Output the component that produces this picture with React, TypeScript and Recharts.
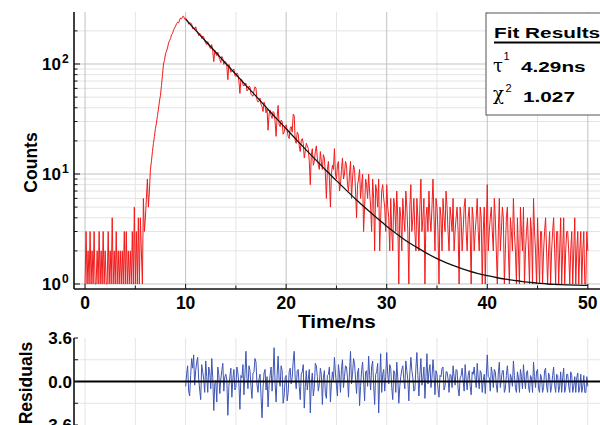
import React from 'react';
import { LineChart, Line, XAxis, YAxis, CartesianGrid, ReferenceLine } from 'recharts';

// ---------- data ----------
const CHANNEL_NS = 0.1; // time step between channels

// counts, 0.0 .. 5.5 ns (background before the pulse)
const countsBaseline = [
  1, 3, 1, 2, 1, 3, 1, 2, 1, 3,
  1, 1, 2, 1, 3, 1, 2, 1, 3, 1,
  2, 1, 1, 3, 1, 2, 1, 4, 1, 2,
  1, 3, 1, 2, 1, 2, 1, 2, 1, 3,
  1, 3, 1, 2, 1, 2, 1, 3, 1, 5,
  1, 3, 1, 4, 1, 4,
];
// counts, 5.6 .. 10.0 ns (rise)
const countsRise = [
  2, 1, 6, 3, 4, 6, 9, 5, 7, 11,
  13, 16, 19, 22, 26, 29, 34, 39, 46, 52,
  64, 80, 100, 108, 124, 131, 140, 155, 163, 170,
  184, 190, 203, 212, 221, 232, 240, 236, 251, 262,
  258, 270, 272, 255, 262,
];
// counts, 10.1 .. 30.0 ns (decay)
const countsDecay = [
  252, 249, 230, 238, 236, 231, 209, 214, 207, 218,
  201, 196, 181, 190, 186, 171, 180, 176, 162, 155,
  150, 160, 152, 141, 138, 150, 131, 105, 133, 124,
  119, 128, 116, 110, 103, 117, 112, 99, 106, 104,
  95, 72, 99, 94, 84, 86, 88, 90, 79, 77,
  83, 80, 70, 54, 73, 71, 65, 63, 66, 67,
  57, 58, 63, 62, 53, 52, 51, 57, 62, 60,
  47, 45, 46, 49, 43, 41, 37, 45, 42, 36,
  39, 25, 35, 38, 34, 32, 37, 36, 30, 22,
  33, 42, 28, 27, 31, 30, 23, 24, 27, 28,
  25, 22, 21, 26, 27, 24, 35, 34, 20, 19,
  24, 23, 18, 16, 20, 21, 19, 14, 16, 19,
  18, 17, 13, 8, 15, 17, 12, 13, 16, 18,
  14, 12, 11, 16, 13, 11, 15, 14, 10, 6,
  11, 13, 9, 5, 10, 12, 11, 17, 10, 9,
  12, 13, 7, 8, 11, 14, 9, 10, 13, 12,
  8, 7, 10, 13, 6, 9, 12, 11, 7, 4,
  8, 9, 11, 6, 8, 10, 3, 5, 9, 8,
  6, 10, 7, 5, 3, 9, 6, 2, 8, 7,
  5, 9, 2, 4, 7, 8, 6, 5, 3, 8,
];
// counts, 30.1 .. 50.0 ns (tail)
const countsTail = [
  5, 4, 2, 6, 3, 2, 6, 5, 3, 7,
  4, 1, 5, 4, 2, 6, 4, 3, 7, 5,
  3, 1, 5, 8, 3, 4, 6, 3, 2, 6,
  4, 2, 5, 9, 3, 4, 6, 1, 4, 5,
  3, 7, 4, 3, 5, 9, 4, 2, 6, 5,
  3, 1, 5, 4, 2, 6, 4, 3, 7, 5,
  3, 2, 5, 4, 3, 6, 2, 3, 4, 5,
  3, 1, 5, 4, 2, 3, 5, 6, 3, 2,
  4, 5, 3, 1, 5, 4, 2, 3, 4, 6,
  3, 2, 5, 4, 1, 3, 5, 1, 3, 8,
  2, 3, 4, 5, 3, 2, 6, 4, 2, 1,
  3, 6, 2, 3, 5, 4, 1, 2, 4, 5,
  2, 1, 4, 3, 2, 6, 3, 2, 1, 4,
  2, 1, 5, 3, 2, 5, 1, 2, 3, 4,
  2, 1, 4, 3, 1, 6, 3, 2, 1, 4,
  2, 1, 3, 3, 1, 2, 3, 4, 2, 1,
  2, 3, 1, 2, 3, 4, 2, 1, 3, 3,
  1, 2, 4, 1, 2, 4, 1, 2, 3, 3,
  2, 1, 2, 3, 1, 2, 4, 1, 2, 3,
  1, 2, 3, 1, 2, 3, 1, 1, 3, 2,
];

// fitted decay curve (black), one value per ns
const fitTimes = [10, 11, 12, 13, 14, 15, 16, 17, 18, 19, 20, 21, 22, 23, 24, 25, 26, 27, 28, 29, 30,
  31, 32, 33, 34, 35, 36, 37, 38, 39, 40, 41, 42, 43, 44, 45, 46, 47, 48, 49, 50];
const fitValues = [255, 202, 161, 128, 101, 80.5, 64, 51, 40.5, 32.2, 25.8, 20.6, 16.5, 13.3, 10.7, 8.7, 7.1, 5.8, 4.8, 4.0, 3.35,
  2.85, 2.45, 2.15, 1.9, 1.7, 1.55, 1.43, 1.33, 1.25, 1.19, 1.14, 1.1, 1.07, 1.04, 1.02, 1.0, 0.99, 0.98, 0.975, 0.97];

// weighted residuals, 10.0 .. 50.0 ns
const RESIDUAL_START_NS = 10;
const residuals = [
  -0.4, 0.6, 1.3, -0.8, -1.2, 0.5, 1.9, 1.1, 2.2, -0.3,
  0.9, 1.6, 2.0, 0.2, -0.7, -1.5, 1.4, 0.8, 0.2, -0.9,
  1.7, 0.4, -0.9, 1.2, 0.8, -0.6, 1.9, 0.3, -2.4, -0.2,
  0.1, -1.7, 1.2, 0.6, -1.0, 0.2, 0.9, 1.5, -0.8, 0.4,
  0.6, 0.1, -2.8, -0.4, 0.4, 1.1, -1.3, 0.2, 1.0, -0.7,
  -0.5, 1.2, 0.7, -0.2, -2.3, 0.5, 0.3, 1.4, -1.1, 0.6,
  2.5, 0.3, -0.6, 1.3, 0.9, -0.4, -1.4, 0.7, 0.8, 1.9,
  1.6, -0.3, -0.9, 0.2, 0.6, -1.2, -3.0, -0.5, 0.7, 1.0,
  -0.7, 0.4, -2.1, -0.3, 0.5, 1.2, -0.8, 0.6, 2.8, -0.2,
  -1.7, 0.5, 2.1, 0.1, -0.4, 1.3, 0.9, -1.8, -1.2, 0.3,
  0.5, -1.6, -0.9, 0.8, 1.1, -0.2, 0.3, 1.7, 2.5, 0.2,
  -0.6, 0.9, 1.0, -0.4, -1.5, 0.6, 0.8, 1.4, -2.2, -0.5,
  0.9, -0.7, 0.2, 1.0, -2.6, -0.1, 0.7, -1.2, -0.5, 1.5,
  1.3, 0.4, -0.8, -0.2, 1.1, 0.6, -1.9, 0.3, 0.9, -1.0,
  -1.4, 0.5, 0.6, 1.2, -1.7, -0.2, 0.8, 0.1, 2.0, 0.7,
  -0.3, -1.2, 1.4, 0.6, -0.9, 1.0, 1.8, -0.5, 0.4, 1.3,
  1.2, 0.3, -1.3, 0.8, 2.5, -0.2, 0.6, 1.9, 1.5, 0.2,
  -1.0, 0.7, 1.1, -2.0, -0.4, 0.9, 1.6, 0.1, -1.6, 0.8,
  0.9, -0.4, 2.1, 0.5, -0.7, 1.2, 1.7, -0.3, -1.9, 0.6,
  0.8, 1.5, -2.6, 0.2, 2.3, -0.9, 0.6, 1.0, -0.8, 0.4,
  2.4, 0.6, -0.2, 1.4, 1.1, -0.5, -1.5, 0.9, 0.7, -0.9,
  1.6, 0.3, -1.8, -0.4, 0.4, 1.0, 1.3, 0.2, -0.6, 1.7,
  0.9, 0.1, -1.6, 0.7, 2.0, 0.9, 0.3, -0.8, -0.7, 1.1,
  2.4, 0.5, -1.2, 0.6, 1.9, -0.3, 0.2, 1.2, -1.4, 0.4,
  2.3, -0.2, 0.8, 1.4, -0.5, 0.3, 1.8, 0.7, -1.1, 0.9,
  0.6, -0.6, -1.3, 0.5, 0.4, 1.1, 1.2, -0.7, -0.4, 0.8,
  0.8, 0.2, -0.9, 0.6, 0.5, -0.5, 1.3, 0.4, -0.3, 1.0,
  0.9, -0.6, -1.2, 0.3, 0.5, 1.1, 0.1, -0.8, 1.4, 0.2,
  -0.7, 0.5, 0.9, -0.4, -1.1, 0.8, 0.6, 1.2, 0.2, -0.5,
  1.5, 0.3, -0.6, 0.9, 0.7, -0.9, 0.1, 0.6, -1.0, 0.4,
  2.2, 0.4, 0.3, -0.8, 1.2, 0.6, -0.5, 1.0, 0.8, -0.3,
  -0.9, 0.7, 1.6, -0.5, 0.2, 0.9, 0.9, -0.9, -0.6, 0.5,
  1.3, 0.2, -0.9, 0.6, 0.3, -0.4, 1.7, 0.5, -0.5, -0.9,
  0.8, 0.3, -0.9, 1.0, 0.4, -0.6, 1.4, 0.2, -0.6, 0.7,
  0.9, -0.4, -0.9, 0.5, 0.3, -0.9, 1.6, 0.4, -0.5, 0.8,
  1.0, -0.6, -0.9, 0.6, 0.3, -0.9, -0.5, 0.9, 1.1, -0.4,
  -0.9, 0.7, 0.4, -0.9, -0.4, 0.5, 1.2, -0.3, -0.9, 0.6,
  0.5, -0.9, -0.4, 0.8, -0.9, 0.3, 1.1, -0.9, -0.5, 0.6,
  0.6, -0.4, -0.9, 0.8, 0.5, -0.9, -0.4, 0.4, -0.9, 0.3,
  0.7, -0.9, -0.5, 0.6, -0.9, -0.4, 0.5, -0.9, -0.9, 0.4,
  -0.4,
];

// axis ticks and labels
const xMajorTicks = [0, 10, 20, 30, 40, 50];
const xMinorTicks = [5, 15, 25, 35, 45];
const xTicks = [0, 5, 10, 15, 20, 25, 30, 35, 40, 45, 50];
const yDecadeTicks = [1, 10, 100];
const yMinorTicks = [2, 3, 4, 5, 6, 7, 8, 9, 20, 30, 40, 50, 60, 70, 80, 90, 200];
const yTicks = [1, 2, 3, 4, 5, 6, 7, 8, 9, 10, 20, 30, 40, 50, 60, 70, 80, 90, 100, 200];
const resTicks = [-3.6, -1.8, 0, 1.8, 3.6];
const resLabelled = [-3.6, 0, 3.6];
const resGrid = [-1.8, 1.8];

const fitTitle = 'Fit Results';
const tauLabel = '4.29ns';
const chiLabel = '1.027';

// ---------- derived tables ----------
const counts = [...countsBaseline, ...countsRise, ...countsDecay, ...countsTail];
const countsData = counts.map((c, i) => ({ t: Math.round(i * CHANNEL_NS * 100) / 100, c }));
const fitData = fitTimes.map((t, i) => ({ t, f: fitValues[i] }));
const residualData = residuals.map((r, i) => ({ t: Math.round((RESIDUAL_START_NS + i * CHANNEL_NS) * 100) / 100, r }));

// ---------- styling ----------
const FONT = '"Liberation Sans", Arial, Helvetica, sans-serif';
const SERIF = '"DejaVu Serif", "Liberation Serif", serif';
const X_DOMAIN: [number, number] = [-1.1, 53.2];
const AXIS = '#111';

function YLogTick(props: any) {
  const { x, y, payload } = props;
  const v = payload.value;
  const major = yDecadeTicks.includes(v);
  const exp = Math.round(Math.log10(v));
  return (
    <g>
      <line x1={x} x2={x + (major ? 6 : 3.5)} y1={y} y2={y} stroke={AXIS} strokeWidth={1} />
      {major && (
        <>
          <text x={x - 13} y={y + 6} textAnchor="end" fontFamily={FONT} fontWeight="bold" fontSize={17} fill="#000">10</text>
          <text x={x - 12} y={y - 1} fontFamily={FONT} fontWeight="bold" fontSize={12} fill="#000">{exp}</text>
        </>
      )}
    </g>
  );
}

function XBottomTick(props: any) {
  const { x, y, payload, labels } = props;
  const v = payload.value;
  const major = v % 10 === 0;
  return (
    <g>
      <line x1={x} x2={x} y1={y} y2={y - (major ? 5 : 3.5)} stroke={AXIS} strokeWidth={1} />
      {labels && major && (
        <text x={x} y={y + 20} textAnchor="middle" fontFamily={FONT} fontWeight="bold" fontSize={17.5} fill="#000">{v}</text>
      )}
    </g>
  );
}

function XTopTick(props: any) {
  const { x, y, payload } = props;
  const v = payload.value;
  const major = v % 10 === 0;
  return <line x1={x} x2={x} y1={y} y2={y + (major ? 5 : 3.5)} stroke={AXIS} strokeWidth={1} />;
}

function ResTick(props: any) {
  const { x, y, payload } = props;
  const v = payload.value;
  const show = resLabelled.includes(v);
  const label = v === 0 ? '0.0' : v.toFixed(1);
  return (
    <g>
      <line x1={x} x2={x + 4} y1={y} y2={y} stroke={AXIS} strokeWidth={1} />
      {show && (
        <text x={x - 2} y={y + 6} textAnchor="end" fontFamily={FONT} fontWeight="bold" fontSize={17} fill="#000">{label}</text>
      )}
    </g>
  );
}

export default function App() {
  return (
    <div style={{ position: 'fixed', left: 0, top: 0, width: 600, height: 425, overflow: 'hidden', background: '#fff' }}>
      {/* decay panel */}
      <div style={{ position: 'absolute', left: 0, top: 0 }}>
        <LineChart width={640} height={341} data={countsData} margin={{ top: 12, right: 20, bottom: 0, left: 0 }}>
          <CartesianGrid stroke="#e4e4e4" strokeWidth={1} verticalValues={xMinorTicks} horizontalValues={yMinorTicks} />
          <CartesianGrid stroke="#c2c2c2" strokeWidth={1} verticalValues={xMajorTicks} horizontalValues={yDecadeTicks} />
          <XAxis
            dataKey="t" type="number" domain={X_DOMAIN} allowDataOverflow ticks={xTicks} interval={0}
            height={52} tickSize={0} tickMargin={0} tickLine={false}
            tick={(p: any) => <XBottomTick {...p} labels />}
            axisLine={{ stroke: AXIS, strokeWidth: 1.6 }}
          />
          <XAxis
            xAxisId="top" orientation="top" dataKey="t" type="number" domain={X_DOMAIN} allowDataOverflow
            ticks={xTicks} interval={0} height={0} tickSize={0} tickMargin={0} tickLine={false}
            tick={(p: any) => <XTopTick {...p} />}
            axisLine={{ stroke: AXIS, strokeWidth: 1.6 }}
          />
          <YAxis
            scale="log" type="number" domain={[0.9006, 297]} allowDataOverflow ticks={yTicks} interval={0}
            width={74} tickSize={0} tickMargin={0} tickLine={false}
            tick={(p: any) => <YLogTick {...p} />}
            axisLine={{ stroke: AXIS, strokeWidth: 1.6 }}
          />
          <Line type="linear" dataKey="c" stroke="#f21b1b" strokeWidth={1} dot={false} activeDot={false} isAnimationActive={false} />
          <Line data={fitData} type="monotone" dataKey="f" stroke="#111" strokeWidth={1.3} dot={false} activeDot={false} isAnimationActive={false} />
        </LineChart>
      </div>

      {/* residual panel */}
      <div style={{ position: 'absolute', left: 0, top: 300 }}>
        <LineChart width={640} height={155} data={residualData} margin={{ top: 38, right: 20, bottom: 30, left: 0 }}>
          <CartesianGrid stroke="#e4e4e4" strokeWidth={1} verticalValues={xTicks} horizontalValues={resGrid} />
          <XAxis
            dataKey="t" type="number" domain={X_DOMAIN} allowDataOverflow ticks={xTicks} interval={0}
            height={0} tickSize={0} tickMargin={0} tickLine={false}
            tick={(p: any) => <XBottomTick {...p} labels={false} />}
            axisLine={{ stroke: AXIS, strokeWidth: 1.6 }}
          />
          <XAxis
            xAxisId="top" orientation="top" dataKey="t" type="number" domain={X_DOMAIN} allowDataOverflow
            ticks={xTicks} interval={0} height={0} tickSize={0} tickMargin={0} tickLine={false}
            tick={(p: any) => <XTopTick {...p} />}
            axisLine={{ stroke: AXIS, strokeWidth: 1.6 }}
          />
          <YAxis
            type="number" domain={[-3.6, 3.6]} allowDataOverflow ticks={resTicks} interval={0}
            width={74} tickSize={0} tickMargin={0} tickLine={false}
            tick={(p: any) => <ResTick {...p} />}
            axisLine={{ stroke: AXIS, strokeWidth: 1.6 }}
          />
          <Line type="linear" dataKey="r" stroke="#3f55b5" strokeWidth={1} dot={false} activeDot={false} isAnimationActive={false} />
          <ReferenceLine y={0} stroke="#000" strokeWidth={2} />
        </LineChart>
      </div>

      {/* titles and fit-results box */}
      <svg width={600} height={425} style={{ position: 'absolute', left: 0, top: 0, pointerEvents: 'none' }}>
        <text transform="translate(37,162.5) rotate(-90)" textAnchor="middle" fontFamily={FONT} fontWeight="bold" fontSize={17.5} fill="#000">Counts</text>
        <text transform="translate(32,383) rotate(-90)" textAnchor="middle" fontFamily={FONT} fontWeight="bold" fontSize={17.5} fill="#000">Residuals</text>
        <text transform="translate(337,328) scale(1.15,1)" textAnchor="middle" fontFamily={FONT} fontWeight="bold" fontSize={18} fill="#000">Time/ns</text>

        <rect x={486} y={13} width={140} height={102} fill="#fff" stroke="#555" strokeWidth={1} />
        <text transform="translate(494,37.7) scale(1.34,1)" fontFamily={FONT} fontWeight="bold" fontSize={15.5} fill="#000">{fitTitle}</text>
        <line x1={494} x2={640} y1={42.5} y2={42.5} stroke="#000" strokeWidth={1.8} />
        <text x={493} y={72} fontFamily={SERIF} fontSize={18} fill="#000">τ</text>
        <text x={503.5} y={60} fontFamily={FONT} fontSize={11} fill="#000">1</text>
        <text transform="translate(521,72) scale(1.34,1)" fontFamily={FONT} fontWeight="bold" fontSize={15.5} fill="#000">{tauLabel}</text>
        <text x={493} y={100} fontFamily={SERIF} fontSize={18} fill="#000">χ</text>
        <text x={505.5} y={92} fontFamily={FONT} fontSize={11} fill="#000">2</text>
        <text transform="translate(523,101.5) scale(1.34,1)" fontFamily={FONT} fontWeight="bold" fontSize={15.5} fill="#000">{chiLabel}</text>
      </svg>
    </div>
  );
}
